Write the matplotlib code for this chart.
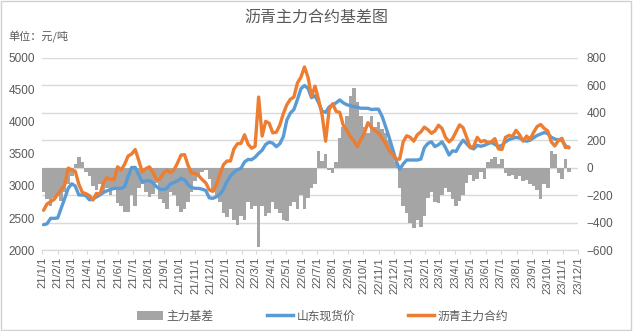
import matplotlib
matplotlib.use("Agg")
import matplotlib.pyplot as plt
import pandas as pd
from matplotlib.patches import Rectangle, Patch
from matplotlib.lines import Line2D

plt.rcParams['font.family'] = ['Liberation Sans', 'Noto Sans CJK SC', 'DejaVu Sans']
plt.rcParams['axes.unicode_minus'] = True

# ---- data (weekly, starting 2021-01-04) ----
start_date = '2021-01-04'
n_weeks = 150

futures = [
    2620, 2720, 2755, 2790, 2870, 2940, 3020, 3280, 3250, 3230,
    3030, 2900, 2880, 2850, 2780, 2885, 2870, 3050, 3130, 3100,
    3100, 3300, 3250, 3340, 3470, 3500, 3570, 3400, 3220, 3270,
    3300, 3220, 3100, 3110, 3200, 3245, 3210, 3250, 3360, 3484,
    3490, 3320, 3200, 3200, 3160, 3100, 3050, 2940, 2915, 3015,
    3180, 3330, 3390, 3390, 3580, 3660, 3667, 3800, 3655, 3590,
    3620, 4390, 3780, 4010, 3980, 3830, 3840, 3950, 4130, 4270,
    4355, 4390, 4610, 4700, 4860, 4700, 4400, 4560, 4350, 4110,
    3700, 4200, 4285, 4165, 4150, 3950, 3870, 3770, 3705, 3615,
    3725, 3830, 3990, 3915, 3865, 3830, 3745, 3665, 3560, 3495,
    3420, 3420, 3690, 3785, 3760, 3700, 3800, 3845, 3920, 3880,
    3823, 3860, 3950, 3900, 3760, 3690, 3740, 3850, 3955, 3910,
    3760, 3600, 3620, 3760, 3690, 3710, 3680, 3690, 3740, 3580,
    3570, 3760, 3790, 3775, 3870, 3800, 3700, 3780, 3730, 3840,
    3930, 3960, 3900, 3860, 3690, 3625, 3710, 3745, 3600, 3610,
]

spot_shandong = [
    2395, 2410, 2495, 2495, 2500, 2650, 2805, 2965, 3035, 3000,
    2860, 2860, 2850, 2785, 2795, 2830, 2860, 2900, 2925, 2945,
    2963, 2963, 2963, 2990, 3150, 3290, 3290, 3180, 3060, 3080,
    3085, 3050, 2990, 2950, 2945, 2965, 3035, 3055, 3080, 3120,
    3095, 3020, 2975, 2963, 2963, 2950, 2930, 2815, 2807, 2830,
    2870, 2945, 3070, 3155, 3215, 3255, 3275, 3375, 3415, 3410,
    3450, 3510, 3560, 3650, 3685, 3670, 3614, 3660, 3770, 4030,
    4140, 4195, 4350, 4520, 4570, 4526, 4380, 4410, 4300, 4170,
    4150, 4235, 4270, 4300, 4344, 4300, 4270, 4255, 4240, 4230,
    4215, 4214, 4214, 4195, 4200, 4200, 4090, 3930, 3760, 3580,
    3390, 3260, 3345, 3406, 3406, 3406, 3406, 3420, 3600, 3665,
    3690, 3615, 3645, 3690, 3600, 3484, 3550, 3540, 3640, 3715,
    3660, 3600, 3580, 3635, 3620, 3635, 3660, 3680, 3650, 3614,
    3635, 3690, 3725, 3745, 3760, 3750, 3715, 3700, 3715, 3755,
    3790, 3812, 3835, 3820, 3760, 3735, 3719, 3715, 3630, 3595,
]

basis = [
    -180, -230, -280, -220, -200, -240, -180, -120, -60, 30,
    80, 40, -30, -60, -130, -160, -120, -180, -150, -200,
    -160, -260, -280, -320, -320, -200, -280, -150, -120, -180,
    -210, -190, -110, -230, -260, -300, -180, -200, -280, -320,
    -300, -250, -180, -100, -60, -30, -20, -80, -180, -210,
    -250, -330, -360, -300, -380, -420, -350, -380, -250, -300,
    -280, -580, -280, -350, -330, -250, -300, -330, -380, -390,
    -280, -250, -300, -200, -300, -220, -150, -120, 120, 50,
    100, -20, -40, 40, 220, 300, 380, 520, 580, 480,
    380, 300, 250, 380, 300, 330, 280, 250, 200, 140,
    40, -150, -280, -330, -400, -440, -380, -430, -350, -220,
    -180, -250, -260, -200, -150, -180, -230, -280, -240, -200,
    -110, -50, -100, -80, -30, -80, 40, 60, 80, 30,
    60, -40, -60, -50, -80, -60, -100, -90, -120, -130,
    -160, -230, -120, -150, 120, 100, -40, -80, 60, -30,
]

title = '沥青主力合约基差图'
unit_label = '单位：元/吨'
series_names = ['主力基差', '山东现货价', '沥青主力合约']

dates = pd.date_range(start_date, periods=n_weeks, freq='7D')

# ---- figure ----
fig = plt.figure(figsize=(6.33, 3.31), dpi=100)
ax = fig.add_axes([0.0664, 0.2447, 0.8467, 0.5801])
ax2 = ax.twinx()

grey = '#a5a5a5'
blue = '#5b9bd5'
orange = '#ed7d31'
txt = '#595959'
gridc = '#d9d9d9'

ax2.bar(dates, basis, width=7, color=grey, linewidth=0, zorder=2)
ax2.set_ylim(-600, 800)
ax2.set_yticks(range(-600, 801, 200))
ax2.grid(axis='y', color=gridc, linewidth=1, zorder=0)
ax2.set_axisbelow(True)

ax.plot(dates, spot_shandong, color=blue, linewidth=2.4, solid_capstyle='round', zorder=3)
ax.plot(dates, futures, color=orange, linewidth=2.4, solid_capstyle='round', zorder=4)
ax.set_ylim(2000, 5000)
ax.set_yticks(range(2000, 5001, 500))

ax.set_zorder(ax2.get_zorder() + 1)
ax.patch.set_visible(False)

ax.set_xlim(pd.Timestamp('2021-01-01'), pd.Timestamp('2023-12-01'))
months = pd.date_range('2021-01-01', '2023-12-01', freq='MS')
ax.set_xticks(months)
ax.set_xticklabels([f"{d.year % 100}/{d.month}/1" for d in months], rotation=90,
                   fontsize=8, color=txt, va='top', ha='center')
ax.tick_params(axis='x', length=3, color=gridc, pad=2)
ax.tick_params(axis='y', length=0, labelsize=8.5, labelcolor=txt, pad=5)
ax2.tick_params(axis='y', length=0, labelsize=8.5, labelcolor=txt, pad=6)

for a in (ax, ax2):
    for s in ('top', 'left', 'right'):
        a.spines[s].set_visible(False)
    a.spines['bottom'].set_color(gridc)

fig.text(0.5, 0.948, title, ha='center', va='center', fontsize=11.5, color=txt,
         family=['Noto Sans CJK SC'])
fig.text(0.013, 0.888, unit_label, ha='left', va='center', fontsize=8, color=txt,
         family=['Noto Sans CJK SC'])

handles = [Patch(facecolor=grey, edgecolor='none'),
           Line2D([], [], color=blue, linewidth=2.5),
           Line2D([], [], color=orange, linewidth=2.5)]
leg = fig.legend(handles, series_names, loc='center', bbox_to_anchor=(0.51, 0.045),
                 ncol=3, frameon=False, columnspacing=4.5, handlelength=2.2,
                 handletextpad=0.3, prop={'family': 'Noto Sans CJK SC', 'size': 8.5})
for t in leg.get_texts():
    t.set_color(txt)

fig.patches.append(Rectangle((0.002, 0.003), 0.995, 0.993, transform=fig.transFigure,
                             fill=False, edgecolor='#d0d0d0', linewidth=1))

fig.savefig('out.png', dpi=100)
